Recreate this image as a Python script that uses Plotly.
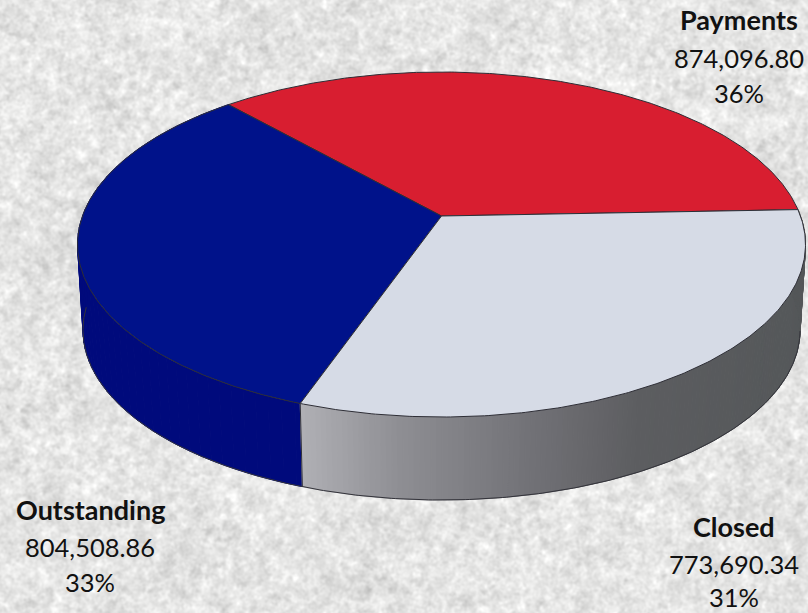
import numpy as np
import plotly.graph_objects as go

# Chart data
categories = ["Payments", "Outstanding", "Closed"]
amounts = [874096.80, 804508.86, 773690.34]
percents = [36, 33, 31]
top_colors = ["#d81e30", "#00128a", "#d6dbe6"]

# Text placement: centre x of each label block and the baseline of each line
label_x = [739, 90, 734]
label_baselines = [[28, 65, 100], [518, 554, 589], [535, 571, 604]]
FONT = "Lato, Carlito, sans-serif"

WIDTH, HEIGHT = 808, 613

# Tilted disc: a unit circle seen in perspective
CX, CY = 441.5, 216
HALF_W, HALF_H, KEYSTONE = 359.0, 167.8, 0.1652
START_DEG = 2.2
DEPTH, BOTTOM_SCALE = 86, 0.985


def rim(deg, level=0):
    """Screen position of a rim point; level 0 is the top face, 1 the base."""
    t = np.radians(deg)
    u, v = np.cos(t), np.sin(t)
    w = 1 + KEYSTONE * v
    s = BOTTOM_SCALE if level else 1.0
    return CX + s * HALF_W * u / w, CY + level * DEPTH - s * HALF_H * v / w


def arc(a, b, level=0, step=0.5):
    return rim(np.linspace(a, b, max(2, int(abs(b - a) / step))), level)


def hex_mix(stops, x):
    xs = [p[0] for p in stops]
    chans = [np.interp(x, xs, [p[1][i] for p in stops]) for i in range(3)]
    return "rgb({:.0f},{:.0f},{:.0f})".format(*chans)


def mottled_backdrop(h, w):
    """Pale stone-like texture: filtered noise at a few grain sizes."""
    rng = np.random.default_rng(11)
    fy = np.fft.fftfreq(h)[:, None]
    fx = np.fft.rfftfreq(w)[None, :]
    f2 = fx**2 + fy**2
    out = np.zeros((h, w))
    for sigma, weight in [(1.2, 0.7), (2.6, 0.8), (7.0, 0.35), (24.0, 0.2)]:
        spec = np.fft.rfft2(rng.standard_normal((h, w)))
        spec *= np.exp(-2 * (np.pi * sigma) ** 2 * f2)
        layer = np.fft.irfft2(spec, s=(h, w))
        out += weight * layer / layer.std()
    out /= out.std()
    grey = np.clip(229 + 8 * out, 190, 255)
    return np.dstack([grey, grey, grey - 1]).astype(np.uint8)


# Cumulative slice boundaries, counter-clockwise from the right side
edges = START_DEG + np.cumsum([0] + [p * 3.6 for p in percents])

fig = go.Figure()
fig.add_trace(go.Image(z=mottled_backdrop(HEIGHT, WIDTH), x0=0.5, y0=0.5, dx=1, dy=1,
                       hoverinfo="skip"))


def poly(xs, ys, fill, line=None, width=1):
    fig.add_trace(go.Scatter(x=xs, y=ys, mode="lines", fill="toself", fillcolor=fill,
                             line=dict(color=line or fill, width=width),
                             hoverinfo="skip", showlegend=False))


def stroke(xs, ys, color="#2a2a30", width=1):
    fig.add_trace(go.Scatter(x=xs, y=ys, mode="lines", line=dict(color=color, width=width),
                             hoverinfo="skip", showlegend=False))


def wall_strip(a, b, color):
    tx, ty = rim(np.array([a, b]), 0)
    bx, by = rim(np.array([b, a]), 1)
    # Close the outline so neighbouring strips leave no seam
    poly(np.r_[tx, bx, tx[0]], np.r_[ty, by, ty[0]], color)


# Outer wall of the "Outstanding" slice, built from strips so the outline
# stays filled where the top rim and the base diverge
blue_strips = np.append(np.arange(edges[1], edges[2], 2.0), edges[2])
for a, b in zip(blue_strips[:-1], blue_strips[1:]):
    wall_strip(a, b, "#000a7c")

# Outer wall of the "Closed" slice, shaded across the screen
wall_stops = [(300, (176, 176, 181)), (400, (142, 142, 147)), (520, (116, 116, 121)),
              (640, (92, 93, 96)), (808, (84, 87, 89))]
strips = np.append(np.arange(edges[2], edges[3], 0.75), edges[3])
for a, b in zip(strips[:-1], strips[1:]):
    wall_strip(a, b, hex_mix(wall_stops, rim(np.array([a, b]), 0)[0].mean()))

# Base outline and the wall seam between the two visible slices
bx, by = arc(edges[1] + 50, edges[3] - 12, 1)
stroke(bx, by, "#33333a", 1)
sx, sy = rim(np.array([edges[2]]), 0), rim(np.array([edges[2]]), 1)
stroke([sx[0][0], sy[0][0]], [sx[1][0], sy[1][0]], "#30303a", 1)

# Top face slices
for i, color in enumerate(top_colors):
    ax, ay = arc(edges[i], edges[i + 1], 0)
    poly(np.r_[CX, ax, CX], np.r_[CY, ay, CY], color, "#2e2e36", 1)

# Labels: bold name, amount, percentage, each on its own baseline
for i, name in enumerate(categories):
    lines = [f"<b>{name}</b>", f"{amounts[i]:,.2f}", f"{percents[i]}%"]
    sizes = [27, 25.5, 25.5]
    for text, base, size in zip(lines, label_baselines[i], sizes):
        fig.add_annotation(x=label_x[i], y=base + 1, text=text, showarrow=False, yanchor="bottom",
                           yshift=-9, xanchor="center",
                           font=dict(family=FONT, size=size, color="#111111"))

fig.update_layout(width=WIDTH, height=HEIGHT, margin=dict(l=0, r=0, t=0, b=0),
                  paper_bgcolor="#e4e4e3", plot_bgcolor="#e4e4e3", showlegend=False,
                  hovermode=False,
                  xaxis=dict(range=[0, WIDTH], visible=False, fixedrange=True),
                  yaxis=dict(range=[HEIGHT, 0], visible=False, fixedrange=True))
fig.write_html("out.html", config=dict(displayModeBar=False))
